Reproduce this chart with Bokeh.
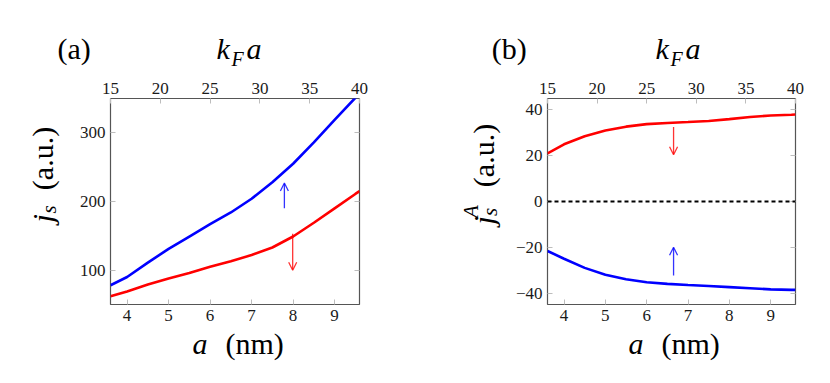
import math
from bokeh.plotting import figure
from bokeh.layouts import row, column
from bokeh.models import (Range1d, LinearAxis, FixedTicker, Label, Arrow, OpenHead,
                          Span, CustomJSTickFormatter)
from bokeh.embed import file_html
from bokeh.resources import INLINE

# ---------------- data ----------------
a_nm = [3.6, 4.0, 4.5, 5.0, 5.5, 6.0, 6.5, 7.0, 7.5, 8.0, 8.5, 9.0, 9.5, 9.6]
# panel (a): j_s
js_up = [78, 90, 111, 131, 149, 167, 184, 204, 228, 255, 286, 319, 351, 358]
js_down = [62, 69, 79, 88, 96, 105, 113, 122, 133, 149, 169, 190, 211, 215]
# panel (b): j_s^A
jsA_down = [21.0, 25.0, 28.5, 31.0, 32.7, 33.8, 34.3, 34.7, 35.2, 36.0, 36.9, 37.6, 37.9, 38.0]
jsA_up = [-21.6, -25.0, -29.0, -32.0, -34.0, -35.3, -36.0, -36.5, -36.9, -37.4, -37.9, -38.4, -38.6, -38.6]

a_range = (3.6, 9.6)
kfa_range = (15, 40)
a_ticks = [4, 5, 6, 7, 8, 9]
kfa_ticks = [15, 20, 25, 30, 35, 40]
ya_range = (50, 350)
ya_ticks = [100, 200, 300]
yb_range = (-45, 45)
yb_ticks = [-40, -20, 0, 20, 40]

# arrows (x, y_start, y_end)
arrows_a = [(7.79, 190, 227, "blue"), (7.99, 153, 100, "red")]
arrows_b = [(6.65, 32.5, 20.4, "red"), (6.65, -32.3, -20.0, "blue")]

SERIF = "Liberation Serif"
FRAME_C = "#555555"
TICK_C = "#bdbdbd"
MID_H = 262


def lbl(p, x, y, text, size, italic=False, angle=0.0):
    # (x, y) is the centre of the text box, in pixels of the strip
    p.add_layout(Label(x=x, y=y, x_units="screen", y_units="screen", text=text,
                       text_font=SERIF, text_font_size=f"{size}px",
                       text_font_style="italic" if italic else "normal",
                       text_color="black", text_align="center",
                       text_baseline="middle", anchor="center", angle=angle))


def strip(w, h):
    s = figure(width=w, height=h, output_backend="svg", toolbar_location=None,
               x_range=Range1d(0, w), y_range=Range1d(0, h),
               x_axis_type=None, y_axis_type=None, min_border=0)
    s.grid.visible = False
    s.outline_line_color = None
    s.border_fill_color = "white"
    s.background_fill_color = "white"
    return s


def make_fig(width, bl, br, yr, yticks):
    p = figure(width=width, height=MID_H, output_backend="svg", toolbar_location=None,
               x_range=Range1d(*a_range), y_range=Range1d(*yr),
               min_border_left=bl, min_border_right=br, min_border_top=28,
               min_border_bottom=28)
    p.grid.visible = False
    p.outline_line_color = FRAME_C
    p.outline_line_width = 1.2
    p.background_fill_color = "white"
    p.border_fill_color = "white"
    bottom = p.below[0]
    left = p.left[0]
    p.extra_x_ranges = {"kfa": Range1d(*kfa_range)}
    top = LinearAxis(x_range_name="kfa", ticker=FixedTicker(ticks=kfa_ticks))
    p.add_layout(top, "above")
    right = LinearAxis(ticker=FixedTicker(ticks=yticks),
                       formatter=CustomJSTickFormatter(code="return ''"))
    p.add_layout(right, "right")
    bottom.ticker = FixedTicker(ticks=a_ticks)
    left.ticker = FixedTicker(ticks=yticks)
    left.formatter = CustomJSTickFormatter(
        code="return tick < 0 ? '\u2212' + Math.abs(tick) : '' + tick;")
    for ax in [bottom, top, left, right]:
        ax.axis_line_color = None
        ax.major_tick_in = 5
        ax.major_tick_out = 0
        ax.major_tick_line_color = TICK_C
        ax.major_tick_line_width = 1
        ax.minor_tick_line_color = None
        ax.major_label_text_font = SERIF
        ax.major_label_text_font_size = "17px"
        ax.major_label_text_color = "#1a1a1a"
        ax.major_label_standoff = 5
    right.major_label_standoff = 0
    return p


# ---------------- panel (a) ----------------
p1 = make_fig(348, 40, 59, ya_range, ya_ticks)
p1.line(a_nm, js_up, line_color="blue", line_width=2.6)
p1.line(a_nm, js_down, line_color="red", line_width=2.6)
for x, y0, y1, c in arrows_a:
    p1.add_layout(Arrow(x_start=x, y_start=y0, x_end=x, y_end=y1, line_color=c,
                        line_width=1.3, line_alpha=0.8,
                        end=OpenHead(size=8, line_color=c, line_width=1.3, line_alpha=0.8)))

# ---------------- panel (b) ----------------
p2 = make_fig(325, 42, 35, yb_range, yb_ticks)
p2.add_layout(Span(location=0, dimension="width", line_color="black",
                   line_width=1.8, line_dash="4 3"))
p2.line(a_nm, jsA_down, line_color="red", line_width=2.6)
p2.line(a_nm, jsA_up, line_color="blue", line_width=2.6)
for x, y0, y1, c in arrows_b:
    p2.add_layout(Arrow(x_start=x, y_start=y0, x_end=x, y_end=y1, line_color=c,
                        line_width=1.3, line_alpha=0.8,
                        end=OpenHead(size=8, line_color=c, line_width=1.3, line_alpha=0.8)))

# ---------------- text strips ----------------
top_s = strip(830, 70)
lbl(top_s, 73.7, 22.1, "(a)", 30)
lbl(top_s, 222.7, 22.1, "k", 30, True)
lbl(top_s, 237.1, 11.8, "F", 20, True)
lbl(top_s, 253.5, 22.1, "a", 30, True)
lbl(top_s, 508.7, 22.1, "(b)", 30)
lbl(top_s, 661.7, 22.1, "k", 30, True)
lbl(top_s, 676.1, 11.8, "F", 20, True)
lbl(top_s, 692.5, 22.1, "a", 30, True)

bot_s = strip(830, 50)
lbl(bot_s, 199.5, 39.1, "a", 30, True)
lbl(bot_s, 254.2, 39.1, "(nm)", 30)
lbl(bot_s, 635.5, 39.1, "a", 30, True)
lbl(bot_s, 690.2, 39.1, "(nm)", 30)

left_a = strip(70, MID_H)
lbl(left_a, 41.9, 86.2, "j", 30, True, math.pi / 2)
lbl(left_a, 48.0, 95.0, "s", 21, True, math.pi / 2)
lbl(left_a, 41.9, 146.0, "(a.u.)", 30, False, math.pi / 2)

left_b = strip(87, MID_H)
lbl(left_b, 64.9, 84.2, "j", 30, True, math.pi / 2)
lbl(left_b, 71.9, 92.6, "s", 21, True, math.pi / 2)
lbl(left_b, 52.9, 93.0, "A", 21, True, math.pi / 2)
lbl(left_b, 64.9, 149.0, "(a.u.)", 30, False, math.pi / 2)

layout = column(top_s, row(left_a, p1, left_b, p2), bot_s)
open("out.html", "w").write(file_html(layout, INLINE))
